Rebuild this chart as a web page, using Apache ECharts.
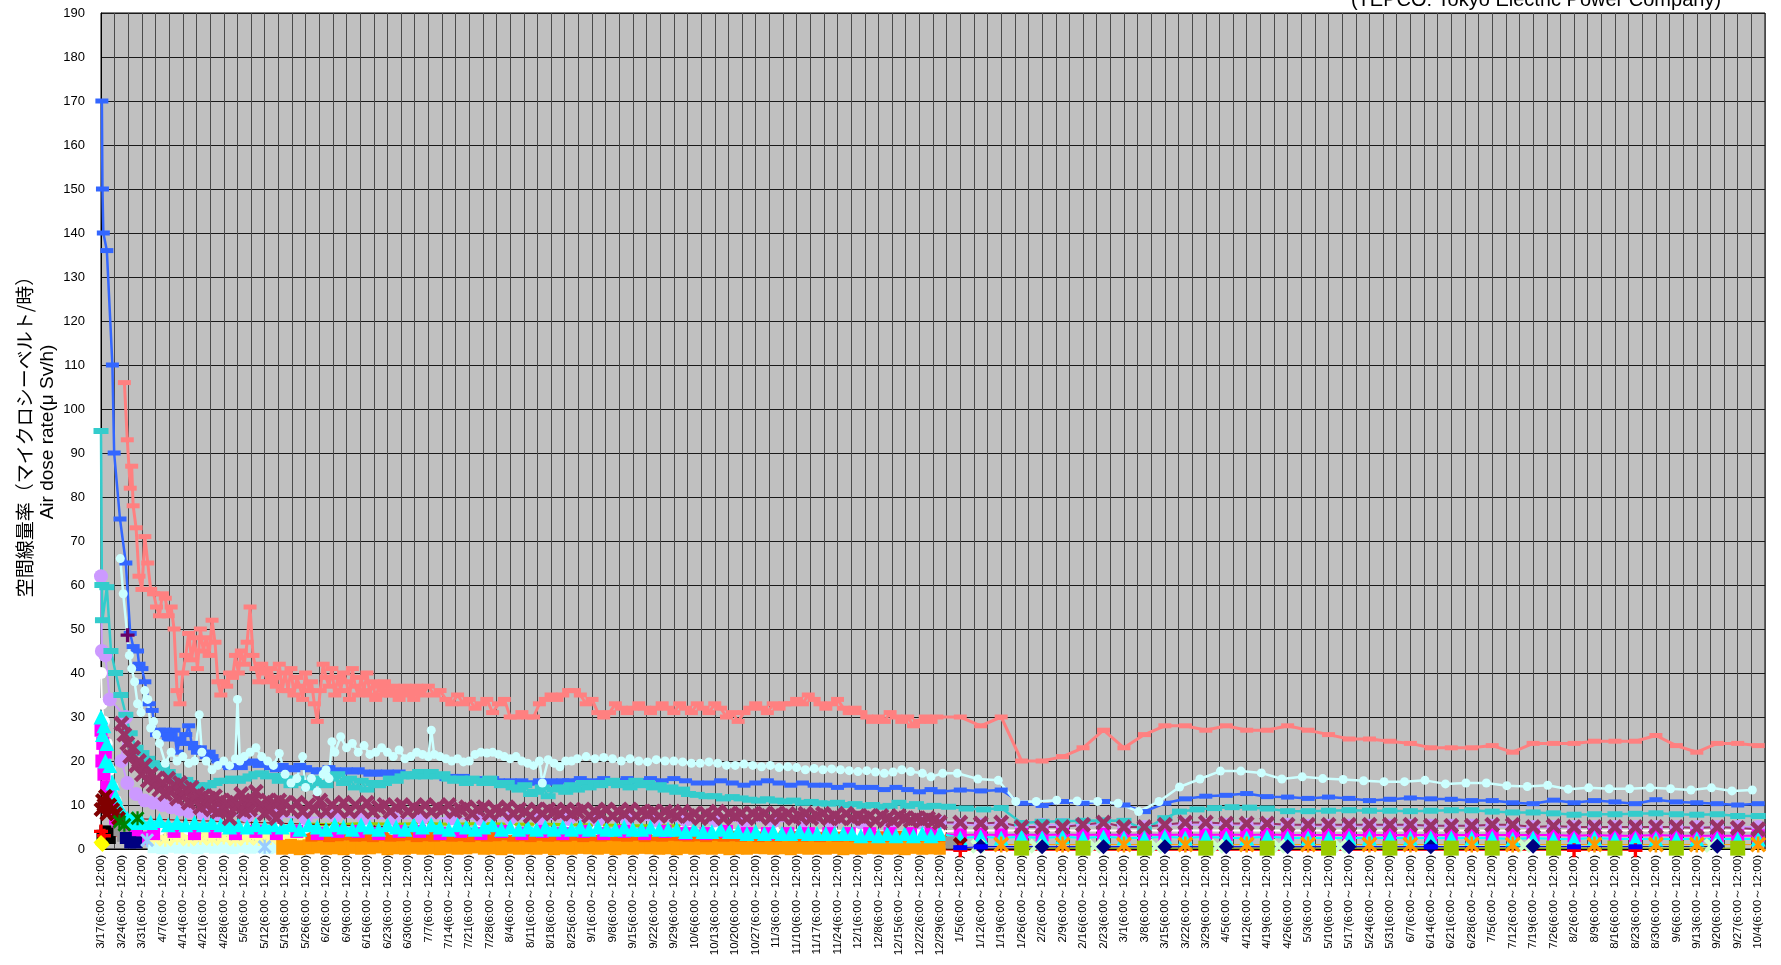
<!DOCTYPE html>
<html><head><meta charset="utf-8">
<script src="https://cdn.jsdelivr.net/npm/echarts@6/dist/echarts.min.js"></script>
<style>html,body{margin:0;padding:0;background:#fff}#c{width:1781px;height:965px}</style>
</head><body><div id="c"></div>
<script>
// x = days since 3/17/2011
const weekLabels = ['3/17','3/24','3/31','4/7','4/14','4/21','4/28','5/5','5/12','5/19','5/26','6/2','6/9','6/16','6/23','6/30','7/7','7/14','7/21','7/28','8/4','8/11','8/18','8/25','9/1','9/8','9/15','9/22','9/29','10/6','10/13','10/20','10/27','11/3','11/10','11/17','11/24','12/1','12/8','12/15','12/22','12/29','1/5','1/12','1/19','1/26','2/2','2/9','2/16','2/23','3/1','3/8','3/15','3/22','3/29','4/5','4/12','4/19','4/26','5/3','5/10','5/17','5/24','5/31','6/7','6/14','6/21','6/28','7/5','7/12','7/19','7/26','8/2','8/9','8/16','8/23','8/30','9/6','9/13','9/20','9/27','10/4'];
const labelSuffix = '(6:00～12:00)';
const yTicks = {min:0, max:190, step:10};

const salmon = [[8,106],[9,93],[10,82],[10.5,87],[11,78],[12,73],[13,62],[14,59],[15,71],[16,65],[17,59],[18,58],[19,55],[20,53],[21,58],[22,57],[23,53],[24,55],[25,50],[26,36],[27,33],[28,40],[29,44],[30,49],[31,43],[32,48],[33,41],[34,50],[35,45],[36,48],[37,44],[38,52],[39,47],[40,38],[41,35],[42,38],[43,37],[44,40],[45,39],[46,44],[47,40],[48,45],[49,42],[50,47],[51,55],[52,44],[53,41],[54,38],[55,42],[56,40],[57,38],[58,41],[59,39],[60,37],[61,42],[62,36],[63,40],[64,36],[65,41],[66,35],[67,39],[68,37],[69,34],[70,40],[71,36],[72,38],[73,33],[74,29],[75,36],[76,42],[77,39],[78,37],[79,41],[80,35],[81,39],[82,36],[83,40],[84,38],[85,34],[86,41],[87,37],[88,35],[89,39],[90,36],[91,40],[92,35],[93,38],[94,34],[95,37],[96,35],[97,38],[98,36],[99,35],[100,37],[101,35],[102,34],[103,36],[104,37],[105,35],[106,36],[107,34],[108,37],[109,36],[110,35],[112,37],[114,35],[116,36],[118,34],[120,33],[122,35],[124,33],[126,34],[128,32],[130,33],[132,34],[134,31],[136,33],[138,34],[140,30],[142,30],[144,31],[146,30],[148,30],[150,33],[152,34],[154,35],[156,34],[158,35],[160,36],[162,36],[164,35],[166,33],[168,34],[170,31],[172,30],[174,31],[176,33],[178,32],[180,31],[182,32],[184,33],[186,32],[188,31],[190,32],[192,33],[194,32],[196,31],[198,33],[200,32],[202,31],[204,33],[206,32],[208,31],[210,33],[212,32],[214,30],[216,31],[218,29],[220,31],[222,32],[224,33],[226,32],[228,31],[230,33],[232,32],[234,33],[236,33],[238,34],[240,33],[242,35],[244,34],[246,33],[248,32],[250,33],[252,34],[254,32],[256,31],[258,32],[260,31],[262,30],[264,29],[266,30],[268,29],[270,31],[272,30],[274,29],[276,30],[278,28],[280,29],[282,30],[284,29],[286,30],[294,30],[301,28],[308,30],[315,20],[322,20],[329,21],[336,23],[343,27],[350,23],[357,26],[364,28],[371,28],[378,27],[385,28],[392,27],[399,27],[406,28],[413,27],[420,26],[427,25],[434,25],[441,24.5],[448,24],[455,23],[462,23],[469,23],[476,23.5],[483,22],[490,24],[497,24],[504,24],[511,24.5],[518,24.5],[525,24.5],[532,25.8],[539,23.5],[546,22],[553,24],[560,24],[567,23.5]];

const blue = [[0.3,170],[0.5,150],[0.8,140],[2,136],[3.9,110],[4.5,90],[6.5,75],[8.5,65],[10,49],[11,46],[12.5,45],[13,42],[14,41],[15,38],[16.5,33],[17.5,31.5],[19,26],[20,27],[21,26],[22,27],[23,25],[24,26],[25,27],[26,22],[27,25],[28,24],[29,26],[30,28],[31,24],[32,23],[33,22],[34,23],[35,22],[36,21],[37,22],[38,21],[40,20],[42,19],[44,18.5],[46,19],[48,18.5],[50,19.5],[52,20],[54,19],[56,19.5],[58,18.5],[60,18],[62,19],[64,18.5],[66,18],[68,19],[70,18.5],[72,18],[74,17.5],[76,18],[78,18.5],[80,18],[82,17.5],[84,18],[86,17.5],[88,18],[90,17.5],[92,17],[94,17.5],[96,17],[98,17.5],[100,17],[102,17.5],[104,17],[106,16.5],[108,17],[110,16.5],[112,17],[114,16.5],[116,16.5],[118,16],[120,16.5],[122,16],[124,16.5],[126,16],[128,15.5],[130,16],[132,15.5],[134,16],[136,15.5],[138,15],[140,15.5],[142,15],[144,15.5],[146,15],[148,15],[150,15.5],[152,15],[154,15.5],[156,15],[158,15.5],[160,15.5],[164,16],[168,15.5],[172,16],[176,15.5],[180,16],[184,15.5],[188,16],[192,15.5],[196,16],[200,15.5],[204,15],[208,15],[212,15.5],[216,15],[220,14.5],[224,15],[228,15.5],[232,15],[236,14.5],[240,15],[244,14.5],[248,14.5],[252,14],[256,14.5],[260,14],[264,14],[268,13.5],[272,14],[276,13.5],[280,13],[284,13.5],[287,13],[294,13.4],[301,13.2],[308,13.4],[315,10.4],[322,9.9],[329,10.8],[336,10.4],[343,10.8],[350,10],[357,8.5],[364,10.4],[371,11.4],[378,12],[385,12.2],[392,12.6],[399,11.9],[406,11.8],[413,11.5],[420,11.8],[427,11.5],[434,11],[441,11.3],[448,11.6],[455,11.4],[462,11.3],[469,11],[476,11],[483,10.5],[490,10.3],[497,11.1],[504,10.5],[511,11],[518,10.7],[525,10.3],[532,11.2],[539,10.7],[546,10.5],[553,10.3],[560,10],[567,10.3]];

const lightCyan = [[6.6,66],[7.6,58],[9.7,44],[10.5,41],[11.5,38],[12.5,33],[13.7,31],[15,36],[16,34],[17,27.5],[18,29],[19,26],[20,24],[22,19.5],[24,22],[26,20],[28,21],[30,19.5],[32,20],[33.6,30.5],[34.5,22],[36,20],[38,18],[40,19],[42,20],[44,19],[46,20.5],[46.7,34],[47.5,20],[49,21],[51,22],[53,23],[55,21],[57,20],[59,19],[61,21.7],[63,17],[65,15],[67,16],[69,21],[70,14],[72,16],[74,13],[76,17],[77,18],[78,16],[79,24.4],[80,22],[82,25.5],[84,23],[86,24],[88,22],[90,23.5],[92,21.5],[94,22],[96,23],[98,22],[100,21],[102,22.5],[104,20.5],[106,21],[108,22],[110,21.5],[112,21],[113,27],[114,21.5],[116,21],[118,20.5],[120,20],[122,20.5],[124,19.8],[126,20],[128,21.5],[130,22],[132,21.8],[134,22],[136,21.5],[138,21],[140,20.5],[142,21],[144,20],[146,19.5],[148,19],[150,20],[151,15],[153,20.3],[155,19.5],[157,18.7],[159,20],[161,20],[163,20.5],[166,21],[169,20.5],[172,20.8],[175,20.5],[178,20],[181,20.5],[184,20],[187,19.8],[190,20.3],[193,20],[196,20],[199,19.8],[202,19.5],[205,19.5],[208,19.8],[211,19.5],[214,19],[217,19],[220,19.3],[223,19],[226,18.7],[229,19],[232,18.5],[235,18.7],[238,18.5],[241,18],[244,18.3],[247,18],[250,18.2],[253,18],[256,17.8],[259,17.6],[262,17.8],[265,17.5],[268,17.2],[271,17.5],[274,18],[277,17.6],[281,17.2],[284,16.4],[288,17.2],[293,17.2],[300,15.9],[307,15.6],[313,10.8],[320,10.8],[327,11.1],[334,10.9],[341,10.8],[348,10.4],[355,8.5],[362,10.8],[369,14.1],[376,15.9],[383,17.7],[390,17.7],[397,17.3],[404,15.9],[411,16.4],[418,16],[425,15.8],[432,15.5],[439,15.3],[446,15.3],[453,15.6],[460,14.8],[467,15],[474,15],[481,14.4],[488,14.2],[495,14.5],[502,13.6],[509,13.9],[516,13.7],[523,13.7],[530,13.9],[537,13.7],[544,13.4],[551,13.9],[558,13.2],[565,13.4]];

const teal = [[0,95],[0.3,60],[0.5,52],[2,59.5],[3.4,45],[5,40],[6.8,35],[8.5,30.5],[10,26.3],[12,23],[14,21.8],[16,20.5],[17.6,19.5],[19,19],[21,18.5],[23,17.5],[25,16.5],[27,15.5],[29,15.7],[31,15],[33,14.5],[35,14],[37,14.5],[39,15],[41,15.5],[43,15.5],[45,16],[47,15.5],[49,16],[51,16.5],[53,17],[55,17.2],[57,16.5],[59,16.6],[61,15.5],[63,16],[65,14.5],[67,16],[69,15],[71,14],[73,16],[75,15],[77,14.5],[79,16],[81,17],[83,15],[85,16],[87,14],[89,15.5],[91,13.5],[93,15],[95,14.5],[97,15],[99,16],[101,15.5],[103,16.5],[105,17],[107,16.5],[109,17.5],[111,16.5],[113,17.5],[115,16.5],[117,17],[119,16],[121,15.5],[123,16],[125,15],[127,16],[129,15.5],[131,15],[133,16],[135,15],[137,14.5],[139,15],[141,14],[143,13.5],[145,14.5],[147,12.5],[149,13],[151,14],[153,12],[155,13.5],[157,14],[159,13],[161,14.5],[163,13.5],[165,15],[167,14],[169,15],[171,14.5],[173,15],[175,15.5],[177,14.5],[179,15],[181,14],[183,15.5],[185,14.5],[187,15],[189,14],[191,14.5],[193,13.5],[195,14],[197,13],[199,13.5],[201,12.5],[204,12.3],[207,12],[210,12],[213,11.5],[216,11.8],[219,11.5],[222,11.2],[225,11],[228,11.3],[231,11],[234,10.8],[237,11],[240,10.5],[243,10.7],[246,10.4],[249,10.3],[252,10.5],[255,10],[258,10.2],[261,9.8],[264,10],[267,9.6],[270,9.8],[273,10.5],[276,9.8],[279,10.2],[282,9.6],[285,9.8],[290,9.6],[296,9.2],[302,9],[308,9.3],[315,5.9],[322,6.2],[329,6.3],[336,6.4],[343,6.5],[350,6.4],[357,4.5],[364,7],[369,8.5],[375,9],[381,9.3],[387,9.5],[393,9.4],[399,9.2],[406,8.6],[413,8.6],[420,8.7],[427,8.8],[434,8.7],[441,8.7],[448,8.6],[455,8.7],[462,8.8],[469,8.8],[476,8.5],[483,8.3],[490,8.3],[497,8.1],[504,7.8],[511,7.9],[518,7.9],[525,8],[532,8.1],[539,7.9],[546,7.8],[553,7.9],[560,7.5],[567,7.5]];

const maroon = [[7,28.5],[8,26],[9,24],[10,21],[11,23],[12,19],[13,20],[14,17],[15,19],[16,15.5],[17,17],[18,14.5],[19,16],[20,13.5],[21,15],[22,12.5],[23,16],[24,13],[25,14.5],[26,11.5],[27,15],[28,12],[29,13.5],[30,10.5],[31,14],[32,11],[33,12.5],[34,9.5],[35,12],[36,10],[37,11.5],[38,9],[39,12],[40,8.5],[41,11],[42,9],[43,10.5],[44,7],[45,11],[46,9.5],[47,10],[48,12.5],[49,8.5],[50,10.5],[51,9],[52,11],[53,13],[54,9.5],[55,10],[56,8],[57,11],[58,9],[59,10.5],[60,7],[61,11],[62,9],[63,10.5],[65,9],[67,10.5],[69,8.5],[71,10],[73,9],[75,11],[77,8.5],[79,10],[81,9],[83,10.5],[85,8.5],[87,10],[89,9],[91,10.5],[93,8.5],[95,9.5],[97,10],[99,8.5],[101,9.5],[103,10],[105,8.5],[107,9.5],[109,9],[111,10],[113,8.5],[115,9.5],[117,9],[119,10],[121,8.5],[123,9],[125,9.5],[127,8],[129,9],[131,9.5],[133,8],[135,9],[137,8.5],[139,9.5],[141,8],[143,9],[145,8.5],[147,7.5],[149,9],[151,8],[153,9],[155,8.5],[157,8],[159,9],[161,8],[163,8.5],[165,9],[167,7.5],[169,8.5],[171,8],[173,9],[175,7.5],[177,8.5],[179,8],[181,9],[183,7.5],[185,8.5],[187,8],[189,8.5],[191,7.5],[193,8.5],[195,8],[197,7.5],[199,8.5],[201,7.5],[203,8],[205,7],[207,8],[209,7.5],[211,8.5],[213,7],[215,8],[217,7.5],[219,8],[221,7],[223,8],[225,7.5],[227,8],[229,7],[231,8],[233,7.5],[235,8],[237,7],[239,7.5],[241,8],[243,7],[245,7.5],[247,8],[249,7],[251,7.5],[253,7],[255,8],[257,7],[259,7.5],[261,7],[263,7.5],[265,6.5],[267,7.5],[269,7],[271,6.5],[273,7.5],[275,7],[277,6.5],[279,7],[281,6.5],[283,7],[285,6.5],[287,6],[294,6],[301,5.8],[308,6],[315,5],[322,5],[329,5],[336,5.5],[343,6],[350,5],[357,5],[364,5.5],[371,6],[378,6],[385,5.8],[392,5.8],[399,5.8],[406,5.5],[413,5.5],[420,5.5],[427,5.5],[434,5.5],[441,5.5],[448,5.5],[455,5.3],[462,5.3],[469,5.3],[476,5.5],[483,5.5],[490,5],[497,5.2],[504,5],[511,5],[518,5],[525,5],[532,5],[539,5],[546,4.8],[553,5],[560,4.8],[567,4.5]];

const cyan = [[0,30],[0.5,26],[1,28],[1.5,20],[2,24],[3,19],[4,15],[5,12],[6,10],[7,8.5],[8,7.5],[9,7],[10,6.5],[11,7],[12,6],[13,6.5],[14,6],[17,6],[20,6.5],[23,5.5],[26,6],[29,5.5],[32,6],[35,5.5],[38,6],[41,5.5],[44,5],[47,5.5],[50,5],[53,5.5],[56,5],[59,5.5],[62,5],[65,5.5],[68,4.5],[71,5.5],[74,5],[77,4.5],[80,5.5],[83,5],[86,4.5],[89,5.5],[92,5],[95,4.5],[98,5.5],[101,5],[104,4.5],[107,5.5],[110,5],[113,5.5],[116,5],[119,4.5],[122,5.5],[125,5],[128,4.5],[131,5],[134,5.5],[137,4.5],[140,5],[143,4.5],[146,5],[149,4.5],[152,5],[155,4.5],[158,5],[161,4.5],[164,5],[167,4.5],[170,5],[173,4.5],[176,4.5],[179,5],[182,4.5],[185,4.5],[188,5],[191,4.5],[194,4.5],[197,4.5],[200,4],[203,4.5],[206,4],[209,4],[212,4.5],[215,4],[218,4],[221,3.5],[224,4],[227,3.5],[230,4],[233,3.5],[236,3.5],[239,4],[242,3.5],[245,3.5],[248,3.5],[251,3.5],[254,3.5],[257,3.5],[260,3],[263,3.5],[266,3],[269,3.5],[272,3],[275,3.5],[278,3],[281,3.5],[284,3],[287,3.5],[294,2.5],[301,2.8],[308,2.5],[315,2.8],[322,2.5],[329,2.8],[336,2.5],[343,2.8],[350,2.5],[357,2.5],[364,2.8],[371,2.5],[378,2.8],[385,2.5],[392,2.5],[399,2.8],[406,2.5],[413,2.5],[420,2.5],[427,2.5],[434,2.5],[441,2.5],[448,2.5],[455,2.5],[462,2.5],[469,2.5],[476,2.5],[483,2.3],[490,2.5],[497,2.3],[504,2.3],[511,2.5],[518,2.3],[525,2.3],[532,2.3],[539,2.3],[546,2.3],[553,2.3],[560,2.3],[567,2.3]];

const magenta = [[0,27],[0.3,20],[0.6,24],[1,17],[1.5,22],[2,14],[3,12],[4,9],[5,7],[6,5],[8,3.5],[10,3],[12,3.5],[14,2.5],[18,3.5],[25,4],[32,3.5],[39,4],[46,3.5],[53,4],[60,3.5],[67,4],[74,3.5],[81,4],[88,4],[95,3.5],[102,4],[109,4],[116,3.5],[123,4],[130,3.5],[137,4],[144,3.5],[151,4],[158,3.5],[165,4],[172,3.5],[179,4],[186,3.5],[193,4],[200,3.5],[207,3.5],[214,4],[221,3.5],[228,3.5],[235,3.5],[242,3.5],[249,3.5],[256,3.5],[263,3.5],[270,3.5],[277,3.5],[284,3.5],[294,3.2],[301,3.3],[308,3.2],[315,3.3],[322,3.2],[329,3.3],[336,3.2],[343,3.3],[350,3.2],[357,3.3],[364,3.2],[371,3.3],[378,3.2],[385,3.3],[392,3.2],[399,3.3],[406,3.2],[413,3.2],[420,3.2],[427,3.2],[434,3.2],[441,3.2],[448,3.2],[455,3.2],[462,3.2],[469,3.2],[476,3.2],[483,3.2],[490,3.2],[497,3.2],[504,3],[511,3.2],[518,3],[525,3],[532,3.2],[539,3],[546,3],[553,3],[560,3],[567,3]];

const white = [[0,40],[0.3,33],[1,29],[2,24],[3,18],[4,14],[5,11],[6,9],[8,7],[12,5],[20,4.5],[30,4.5],[40,4.5],[50,4.5],[60,4.5],[70,4.8],[80,4.5],[90,4.8],[100,4.5],[110,4.8],[120,4.5],[130,4.8],[140,4.5],[150,4.8],[160,4.5],[170,4.5],[180,4.5],[190,4.3],[200,4.5],[210,4.3],[220,4.3],[230,4.3],[240,4.2],[250,4.2],[260,4],[270,4],[280,4],[287,4],[294,4.2],[315,4.2],[336,4.2],[357,4.2],[378,4.2],[399,4.2],[420,4.2],[441,4.2],[462,4.2],[483,4.2],[504,4.2],[525,4.2],[546,4.2],[567,4.2]];

const lavender = [[0,62],[0.3,45],[1.5,44],[3,34],[8.5,30],[7,20],[9,15],[12,12.5],[15,11],[18,10.5],[21,10],[24,9.5],[27,9],[30,8.5],[35,8],[40,8],[50,7.5],[60,7.5],[70,7],[80,7.5],[90,7],[100,7],[110,7],[120,7],[130,6.8],[140,7],[150,6.8],[160,6.8],[170,6.5],[180,6.8],[190,6.5],[200,6.5],[210,6.5],[220,6.3],[230,6.3],[240,6.3],[250,6],[260,6],[270,6],[280,6],[287,6],[294,5.5],[301,5.5],[308,5.5],[315,5],[322,5.5],[329,5.5],[336,5.5],[343,5.5],[350,5.5],[357,5],[364,5.5],[371,5.5],[378,5.5],[385,5.5],[392,5.5],[399,5.5],[406,5.5],[413,5.3],[420,5.3],[427,5.3],[434,5.3],[441,5.3],[448,5.3],[455,5.3],[462,5.3],[469,5.3],[476,5.3],[483,5],[490,5],[497,5],[504,5],[511,5],[518,5],[525,5],[532,5],[539,5],[546,5],[553,5],[560,5],[567,5]];

const orangeBand = [[62,0.4],[65,0.6],[68,0.3],[71,0.5],[74,0.7],[77,0.4],[80,0.5],[83,0.3],[86,0.6],[89,0.4],[92,0.5],[95,0.7],[98,0.3],[101,0.5],[104,0.4],[107,0.6],[110,0.4],[113,0.5],[116,0.3],[119,0.6],[122,0.4],[125,0.5],[128,0.7],[131,0.4],[134,0.5],[137,0.3],[140,0.6],[143,0.4],[146,0.5],[149,0.4],[152,0.6],[155,0.3],[158,0.5],[161,0.4],[164,0.6],[167,0.5],[170,0.4],[173,0.6],[176,0.3],[179,0.5],[182,0.4],[185,0.6],[188,0.5],[191,0.4],[194,0.5],[197,0.3],[200,0.6],[203,0.4],[206,0.5],[209,0.4],[212,0.6],[215,0.3],[218,0.5],[221,0.4],[224,0.6],[227,0.5],[230,0.4],[233,0.5],[236,0.3],[239,0.6],[242,0.4],[245,0.5],[248,0.4],[251,0.6],[254,0.3],[257,0.5],[260,0.4],[263,0.6],[266,0.5],[269,0.4],[272,0.5],[275,0.3],[278,0.6],[281,0.4],[284,0.5],[287,0.4]];

const darkOrangeBand = [[72,2.8],[75,3],[78,2.7],[81,2.9],[84,3.1],[87,2.8],[90,2.9],[93,2.7],[96,3],[99,2.8],[102,2.9],[105,3.1],[108,2.7],[111,2.9],[114,2.8],[117,3],[120,2.8],[123,2.9],[126,2.7],[129,3],[132,2.8],[135,2.9],[138,3.1],[141,2.8],[144,2.9],[147,2.7],[150,3],[153,2.8],[156,2.9],[159,2.8],[162,3],[165,2.7],[168,2.9],[171,2.8],[174,3],[177,2.9],[180,2.8],[183,3],[186,2.7],[189,2.9],[192,2.8],[195,3],[198,2.9],[201,2.8],[204,2.9],[207,2.7],[210,3],[213,2.8],[216,2.9],[219,2.8],[222,3],[225,2.7],[228,2.9],[231,2.8],[234,3],[237,2.9],[240,2.8],[243,2.9],[246,2.7],[249,3],[252,2.8],[255,2.9],[258,2.8],[261,3],[264,2.7],[267,2.9],[270,2.8],[273,3],[276,2.9],[279,2.8],[282,2.9],[285,2.7],[287,2.8]];

const yellowGreen2011 = [[70,5.7],[80,5.5],[90,5.8],[100,5.6],[110,5.8],[120,5.6],[130,5.8],[140,5.6],[150,5.7],[160,5.5],[170,5.5],[180,5.3],[190,5.3],[200,5.2]];
const lightYellow = [[18,2.5],[20,3],[22,2.2],[24,3.2],[26,2.6],[28,3],[30,2.3],[32,3.1],[34,2.6],[36,3],[38,2.4],[40,3.2],[42,2.7],[44,3],[46,2.3],[48,3.1],[50,2.6],[52,3],[54,2.4],[56,3.1],[58,2.6],[60,3],[62,2.5],[64,3],[66,2.6],[68,3],[70,2.7]];
const paleCyan = [[18,0.4],[21,0.2],[24,0.5],[27,0.3],[30,0.4],[33,0.2],[36,0.5],[39,0.3],[42,0.4],[45,0.2],[48,0.5],[51,0.3],[54,0.4],[57,0.2],[60,0.4],[63,0.3]];
const darkRed = [[0,9],[0.5,11],[1,10],[1.5,12],[2,8],[3,10],[4,9],[5,8],[6,7],[294,1]];
const redPlus = [[0,4],[1,3],[294,-0.3],[504,-0.3],[525,-0.3]];
const blackSq = [[0.5,3],[1.5,4],[2.5,3.5],[3,2.5]];
const graySq = [[6.3,4.3],[7.5,3],[291,1.5]];
const navySq = [[8.5,2.5],[10,1.5],[12,1.5]];
const yellowDia = [[0,1.5],[0.5,1]];
const greenStar = [[6.3,6.2],[8,5.5],[12.5,7]];
const purplePlus = [[9.1,48.6]];
const lightBlueStar = [[15.8,2],[56,0.5]];
const orangeX2012 = [[308,1],[329,1],[350,1],[371,1],[392,1],[413,1],[434,1],[448,1],[469,1],[483,1],[511,1],[532,1],[546,1],[567,1]];
const yellowGreen2012 = [[315,0.2],[336,0.2],[357,0.2],[378,0.2],[399,0.2],[420,0.2],[441,0.2],[462,0.2],[476,0.2],[497,0.2],[518,0.2],[539,0.2],[560,0.2]];
const navy2012 = [[301,0.6],[322,0.5],[343,0.5],[364,0.5],[385,0.5],[406,0.5],[427,0.5],[455,0.5],[490,0.6],[553,0.6]];
const lightGreenX2012 = [[300,0.6],[320,0.6],[340,0.6],[361,0.6],[382,0.6],[403,0.6],[424,0.6],[487,0.8],[551,0.8]];
const blueDash2012 = [[294,0.3],[301,0.5],[455,0.5],[504,0.5],[525,0.5]];

const SYM = {
  dash: 'path://M0,0H12V4H0Z',
  x: 'path://M0,2L2,0L5,3L8,0L10,2L7,5L10,8L8,10L5,7L2,10L0,8L3,5Z',
  plus: 'path://M3.8,0H6.2V3.8H10V6.2H6.2V10H3.8V6.2H0V3.8H3.8Z',
  star: 'path://M0,1.5L1.5,0L5,3.5L8.5,0L10,1.5L6.5,5L10,8.5L8.5,10L5,6.5L1.5,10L0,8.5L3.5,5Z M4.2,0H5.8V10H4.2Z'
};

function mk(data, color, symbol, size, lw) {
  return {type:'line', data, symbol, symbolSize:size, showSymbol:true, clip:false,
    lineStyle:{color, width: lw}, itemStyle:{color, borderWidth:0}, emphasis:{disabled:true}, z:2};
}

const series = [
  mk(paleCyan, '#CCFFFF', 'rect', 12, 2),
  mk(lightYellow, '#FFFF99', SYM.star, 15, 2),
  mk(yellowGreen2011, '#99CC00', 'rect', 8, 3),
  mk(orangeBand, '#FF9900', 'rect', [12,15], 2),
  mk(darkOrangeBand, '#FF6600', 'rect', [12,10], 2),
  mk(white, '#FFFFFF', 'circle', 12, 2),
  mk(lavender, '#CC99FF', 'circle', 14, 2),
  mk(magenta, '#FF00FF', 'rect', 13, 2),
  mk(cyan, '#00FFFF', 'triangle', 15, 2),
  mk(blackSq, '#000000', 'rect', 12, 2),
  mk(graySq, '#969696', 'rect', 12, 2),
  mk(navySq, '#000080', 'rect', 12, 2),
  mk(darkRed, '#800000', SYM.x, 15, 1),
  mk(redPlus, '#FF0000', SYM.plus, 14, 1),
  mk(yellowDia, '#FFFF00', 'diamond', 15, 1),
  mk(greenStar, '#008000', SYM.star, 14, 1),
  mk(lightBlueStar, '#99CCFF', SYM.star, 14, 1),
  mk(blue, '#3366FF', SYM.dash, [13,5], 2.5),
  mk(teal, '#33CCCC', SYM.dash, [15,6], 2.5),
  mk(maroon, '#993366', SYM.x, 16, 2),
  mk(lightCyan, '#CCFFFF', 'circle', 9, 2.5),
  mk(salmon, '#FF8080', SYM.dash, [13,5], 3),
  mk(purplePlus, '#660066', SYM.plus, 14, 1),
  mk(lightGreenX2012, '#CCFFCC', SYM.x, 15, 1),
  mk(navy2012, '#000080', 'diamond', 15, 1),
  mk(blueDash2012, '#0000FF', SYM.dash, [14,5], 1),
  mk(yellowGreen2012, '#99CC00', 'rect', 15, 1),
  mk(orangeX2012, '#FF9900', SYM.star, 16, 1)
];

const chart = echarts.init(document.getElementById('c'), null, {renderer:'canvas'});
chart.setOption({
  animation:false,
  backgroundColor:'#ffffff',
  textStyle:{fontFamily:'Liberation Sans, Arial, sans-serif'},
  grid:{left:101, right:16, top:13, bottom:116, show:true, backgroundColor:'#C0C0C0', borderColor:'#000', borderWidth:1},
  xAxis:[
    {type:'value', min:0, max:1708/3, interval:7, position:'bottom',
     axisLine:{show:true, lineStyle:{color:'#000'}}, axisTick:{show:false},
     splitLine:{show:false}, showMaxLabel:false,
     axisLabel:{rotate:90, fontSize:11.6, color:'#000', margin:6,
       formatter:function(v){ const k=Math.round(v/7); return (Math.abs(v-7*k)<1e-6 && k<weekLabels.length) ? weekLabels[k]+labelSuffix : ''; }}},
    {type:'value', min:0, max:244, interval:2, position:'top',
     axisLine:{show:false}, axisTick:{show:false}, axisLabel:{show:false},
     splitLine:{show:true, lineStyle:{color:'#4a4a4a', width:1}}}
  ],
  yAxis:{type:'value', min:yTicks.min, max:yTicks.max, interval:yTicks.step,
    axisLine:{show:true, lineStyle:{color:'#000'}}, axisTick:{show:false},
    axisLabel:{fontSize:13, color:'#000', margin:16},
    splitLine:{show:true, lineStyle:{color:'#1a1a1a', width:1}}},
  graphic:[
    {type:'text', x:25, y:432, rotation:Math.PI/2, style:{text:'空間線量率（マイクロシーベルト/時）', font:'19px "Noto Sans CJK JP", sans-serif', fill:'#000', align:'center', verticalAlign:'middle'}},
    {type:'text', x:48, y:432, rotation:Math.PI/2, style:{text:'Air dose rate(μ Sv/h)', font:'19px "Liberation Sans", Arial, sans-serif', fill:'#000', align:'center', verticalAlign:'middle'}},
    {type:'text', x:1536, y:10, style:{text:'(TEPCO: Tokyo Electric Power Company)', font:'20px "Liberation Sans", Arial, sans-serif', fill:'#000', align:'center', verticalAlign:'bottom'}}
  ],
  series
});
</script></body></html>
